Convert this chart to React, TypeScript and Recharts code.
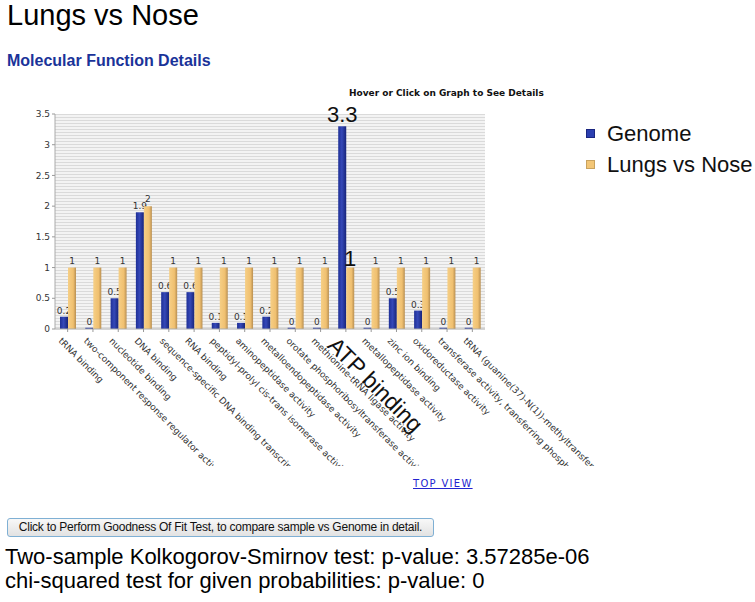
import { BarChart, Bar, XAxis, YAxis, CartesianGrid, LabelList } from 'recharts'

const categories = [
  'tRNA binding',
  'two-component response regulator activity',
  'nucleotide binding',
  'DNA binding',
  'sequence-specific DNA binding transcription factor activity',
  'RNA binding',
  'peptidyl-prolyl cis-trans isomerase activity',
  'aminopeptidase activity',
  'metalloendopeptidase activity',
  'orotate phosphoribosyltransferase activity',
  'methionine-tRNA ligase activity',
  'ATP binding',
  'metallopeptidase activity',
  'zinc ion binding',
  'oxidoreductase activity',
  'transferase activity, transferring phosphorus-containing groups',
  'tRNA (guanine(37)-N(1))-methyltransferase activity',
]

const genome = [0.2, 0.02, 0.5, 1.9, 0.6, 0.6, 0.1, 0.1, 0.2, 0.02, 0.02, 3.3, 0.02, 0.5, 0.3, 0.02, 0.02]
const lungsVsNose = [1, 1, 1, 2, 1, 1, 1, 1, 1, 1, 1, 1, 1, 1, 1, 1, 1]
const yTicks = [0, 0.5, 1, 1.5, 2, 2.5, 3, 3.5]

// the hovered category in the screenshot, drawn with big labels
const ACTIVE = 11

const data = categories.map((name, i) => ({ name, genome: genome[i], lungs: lungsVsNose[i] }))

const fmt = (v: number) => (v < 0.05 ? '0' : String(v))

function CategoryTick(props: { x?: number; y?: number; payload?: { value: string; index: number } }) {
  const { x = 0, y = 0, payload } = props
  if (!payload) return null
  const big = payload.index === ACTIVE
  const tx = big ? x - 8 : x - 5
  const ty = big ? y + 1 : y + 3
  return (
    <g clipPath="url(#labelClip)">
      <text
        x={tx}
        y={ty}
        dy="0.72em"
        transform={`rotate(45 ${tx} ${ty})`}
        textAnchor="start"
        fontSize={big ? 23 : 9}
        fontFamily={big ? 'Arial, "Liberation Sans", sans-serif' : "'DejaVu Sans', sans-serif"}
        fill={big ? '#111' : '#333'}
      >
        {payload.value}
      </text>
    </g>
  )
}

// genome bars draw their own value label so the orange bars drawn later can cover it
function GenomeBar(props: any) {
  const { x, y, width, height, value, index } = props
  const v = Array.isArray(value) ? value[1] : value
  const big = index === ACTIVE
  return (
    <g>
      <rect x={x} y={y} width={width} height={Math.max(height, 0)} fill="url(#blueBar)" />
      <text
        x={x + width / 2}
        y={y - (big ? 4 : 3)}
        textAnchor="middle"
        fontSize={big ? 22 : 9}
        fontFamily={big ? 'Arial, "Liberation Sans", sans-serif' : "'DejaVu Sans', sans-serif"}
        fill={big ? '#111' : '#333'}
      >
        {fmt(Number(v))}
      </text>
    </g>
  )
}

function lungsLabel(props: any) {
  const { x, y, width, value, index } = props
  const big = index === ACTIVE
  return (
    <text
      x={Number(x) + Number(width) / 2}
      y={Number(y) - (big ? 2 : 4)}
      textAnchor="middle"
      fontSize={big ? 22 : 9}
      fontFamily={big ? 'Arial, "Liberation Sans", sans-serif' : "'DejaVu Sans', sans-serif"}
      fill={big ? '#111' : '#333'}
    >
      {fmt(Number(value))}
    </text>
  )
}

const legendItems = [
  { label: 'Genome', color: '#2b3fb0', edge: '#1a2680' },
  { label: 'Lungs vs Nose', color: '#f3c676', edge: '#c9a25e' },
]

export default function App() {
  return (
    <div
      style={{
        position: 'absolute',
        left: 0,
        top: 0,
        width: 755,
        height: 602,
        background: '#fff',
        fontFamily: 'Arial, "Liberation Sans", sans-serif',
        overflow: 'hidden',
      }}
    >
      <div style={{ position: 'absolute', left: 7, top: 1, fontSize: 29, lineHeight: '29px', color: '#000' }}>
        Lungs vs Nose
      </div>
      <div style={{ position: 'absolute', left: 7, top: 52, fontSize: 16, fontWeight: 'bold', color: '#1a3399' }}>
        Molecular Function Details
      </div>
      <div
        style={{
          position: 'absolute',
          left: 349,
          top: 88,
          fontSize: 9,
          fontWeight: 'bold',
          color: '#111',
          fontFamily: '"DejaVu Sans", sans-serif',
        }}
      >
        Hover or Click on Graph to See Details
      </div>

      <div style={{ position: 'absolute', left: 0, top: 0 }}>
        <BarChart
          width={755}
          height={480}
          data={data}
          margin={{ top: 114, right: 270, bottom: 11, left: 20 }}
          barSize={8}
          barGap={0}
        >
          <defs>
            <pattern id="stripes" width="6" height="3" patternUnits="userSpaceOnUse">
              <rect width="6" height="3" fill="#f3f3f3" />
              <rect width="6" height="1" fill="#dadada" />
            </pattern>
            <linearGradient id="blueBar" x1="0" y1="0" x2="1" y2="0">
              <stop offset="0%" stopColor="#1e2f96" />
              <stop offset="45%" stopColor="#3548b8" />
              <stop offset="100%" stopColor="#17247a" />
            </linearGradient>
            <linearGradient id="orangeBar" x1="0" y1="0" x2="1" y2="0">
              <stop offset="0%" stopColor="#f6cf86" />
              <stop offset="65%" stopColor="#f0c070" />
              <stop offset="100%" stopColor="#b88f52" />
            </linearGradient>
            <clipPath id="labelClip">
              <rect x={0} y={329} width={755} height={137} />
            </clipPath>
          </defs>
          <CartesianGrid horizontal={false} vertical={false} fill="url(#stripes)" />
          <XAxis
            dataKey="name"
            interval={0}
            height={140}
            tick={<CategoryTick />}
            tickLine={{ stroke: '#999' }}
            tickSize={3}
            axisLine={{ stroke: '#aaa' }}
          />
          <YAxis
            width={35}
            domain={[0, 3.5]}
            ticks={yTicks}
            tick={{ fontSize: 9, fill: '#333', fontFamily: "'DejaVu Sans', sans-serif" }}
            tickLine={{ stroke: '#999' }}
            tickSize={3}
            axisLine={{ stroke: '#aaa' }}
          />
          <Bar dataKey="genome" name="Genome" fill="url(#blueBar)" shape={<GenomeBar />} isAnimationActive={false} />
          <Bar dataKey="lungs" name="Lungs vs Nose" fill="url(#orangeBar)" isAnimationActive={false}>
            <LabelList dataKey="lungs" content={lungsLabel} />
          </Bar>
        </BarChart>
      </div>

      <div style={{ position: 'absolute', left: 586, top: 118 }}>
        {legendItems.map(it => (
          <div key={it.label} style={{ display: 'flex', alignItems: 'center', height: 31 }}>
            <span
              style={{
                width: 7,
                height: 7,
                background: it.color,
                border: `1px solid ${it.edge}`,
                marginRight: 12,
                display: 'inline-block',
              }}
            />
            <span style={{ fontSize: 22, color: '#111' }}>{it.label}</span>
          </div>
        ))}
      </div>

      <div
        style={{
          position: 'absolute',
          left: 413,
          top: 478,
          fontSize: 10,
          letterSpacing: 1.3,
          color: '#2323d0',
          textDecoration: 'underline',
          fontFamily: '"DejaVu Sans", sans-serif',
        }}
      >
        TOP VIEW
      </div>

      <div
        style={{
          position: 'absolute',
          left: 7,
          top: 518,
          width: 425,
          height: 17,
          border: '1px solid #7fb0d4',
          borderRadius: 3,
          background: 'linear-gradient(#f8f8f8, #e2e2e2)',
          fontSize: 12,
          lineHeight: '17px',
          textAlign: 'center',
          color: '#111',
          letterSpacing: -0.25,
        }}
      >
        Click to Perform Goodness Of Fit Test, to compare sample vs Genome in detail.
      </div>

      <div style={{ position: 'absolute', left: 5, top: 545, fontSize: 22, lineHeight: '24px', color: '#000' }}>
        Two-sample Kolkogorov-Smirnov test: p-value: 3.57285e-06
        <br />
        chi-squared test for given probabilities: p-value: 0
      </div>
    </div>
  )
}
